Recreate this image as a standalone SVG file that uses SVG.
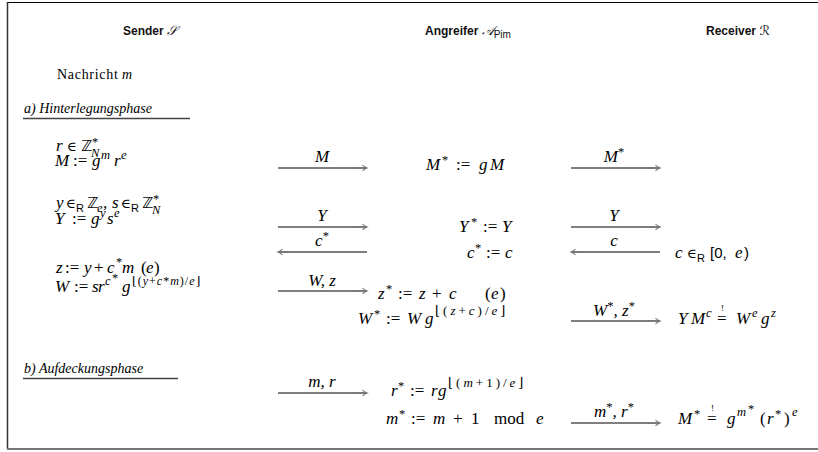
<svg xmlns="http://www.w3.org/2000/svg" width="818" height="452" viewBox="0 0 818 452">
<defs>
<style>
.h{font-family:"Liberation Sans",Arial,sans-serif;font-size:12px;font-weight:bold;fill:#111}
.cal{font-family:"DejaVu Serif","DejaVu Sans",serif;font-style:italic;font-weight:normal;font-size:13px}
.m{font-family:"Liberation Serif","DejaVu Serif",serif;font-size:17px;font-style:italic;fill:#000}
.rm{font-style:normal}
.el{font-family:"DejaVu Serif",serif;font-style:normal;font-size:13.5px}
.zz{font-family:"DejaVu Sans",sans-serif;font-style:normal;font-size:15px}
.sf{font-family:"Liberation Sans","DejaVu Sans",sans-serif;font-style:normal;font-size:15px}
.sr{font-family:"Liberation Sans","DejaVu Sans",sans-serif;font-style:normal;font-size:11px}
.s{font-size:12.5px}
.ss{font-size:12px;letter-spacing:1px}
.sw{font-size:13px;letter-spacing:3px}
.ex{font-style:normal;font-size:9px}
.ph{font-family:"Liberation Serif","DejaVu Serif",serif;font-size:14px;font-style:italic;fill:#000}
.ul{stroke:#444;stroke-width:1.4;fill:none}
.arr{stroke:#000;stroke-width:1.1;fill:none;marker-end:url(#ah)}
.arl{stroke:#000;stroke-width:1.1;fill:none;marker-start:url(#ah)}
</style>
<marker id="ah" markerUnits="userSpaceOnUse" viewBox="-15 -4 16 8" refX="0" refY="0" markerWidth="16" markerHeight="8" orient="auto-start-reverse" overflow="visible">
<path d="M-14,0 H0 M-4.5,-2.8 Q-2,-0.6 0,0 Q-2,0.6 -4.5,2.8" stroke="#777" stroke-width="1.1" fill="none"/>
</marker>
</defs>
<rect width="818" height="452" fill="#fff"/>
<g id="frame">
<line x1="7" y1="2.5" x2="818" y2="2.5" stroke="#000" stroke-width="1"/>
<line x1="7.5" y1="2" x2="7.5" y2="449" stroke="#333" stroke-width="1.5"/>
<line x1="7" y1="449" x2="818" y2="449" stroke="#777" stroke-width="2"/>
</g>
<g id="headers">
<text class="h" x="123" y="35">Sender <tspan class="cal">𝒮</tspan></text>
<text class="h" x="425" y="35">Angreifer <tspan class="cal">𝒜</tspan><tspan font-weight="normal" font-size="10" dy="3">Pim</tspan></text>
<text class="h" x="706" y="35">Receiver <tspan class="cal">ℛ</tspan></text>
</g>
<g id="sender">
<text class="m" x="57" y="79" style="font-size:14px"><tspan class="rm" style="letter-spacing:0.7px">Nachricht</tspan> m</text>
<g id="phase-a">
<text class="ph" x="24" y="113">a) Hinterlegungsphase</text>
<line class="ul" x1="23" y1="118.5" x2="190" y2="118.5"/>
</g>
<text class="m"><tspan x="56" y="151">r</tspan><tspan class="el" x="67" y="151">∈</tspan><tspan class="zz" x="81" y="151">ℤ</tspan><tspan class="rm s" x="92" y="146">*</tspan><tspan class="s" x="91" y="157">N</tspan></text>
<text class="m"><tspan x="55" y="166">M</tspan><tspan class="rm" x="73" y="166">:=</tspan><tspan x="92" y="166">g</tspan><tspan class="s" x="101" y="159">m</tspan><tspan x="114" y="166">r</tspan><tspan class="s" x="121" y="159">e</tspan></text>
<text class="m"><tspan x="56" y="208">y</tspan><tspan class="el" x="66" y="208">∈</tspan><tspan class="sr" x="76" y="212">R</tspan><tspan class="zz" x="87" y="208">ℤ</tspan><tspan class="s" x="97" y="212">e</tspan><tspan x="103" y="208">,</tspan><tspan x="112" y="208">s</tspan><tspan class="el" x="121" y="208">∈</tspan><tspan class="sr" x="131" y="212">R</tspan><tspan class="zz" x="142" y="208">ℤ</tspan><tspan class="rm s" x="153" y="203">*</tspan><tspan class="s" x="152" y="214">N</tspan></text>
<text class="m"><tspan x="55" y="224">Y</tspan><tspan class="rm" x="72" y="224">:=</tspan><tspan x="91" y="224">g</tspan><tspan class="s" x="100" y="217">y</tspan><tspan x="107" y="224">s</tspan><tspan class="s" x="114" y="217">e</tspan></text>
<text class="m"><tspan x="56" y="273">z</tspan><tspan class="rm" x="65" y="273">:=</tspan><tspan x="84" y="273">y</tspan><tspan class="rm" x="94" y="273">+</tspan><tspan x="107" y="273">c</tspan><tspan class="rm s" x="116" y="266">*</tspan><tspan x="122" y="273">m</tspan><tspan class="rm" x="141" y="273">(</tspan><tspan x="146" y="273">e</tspan><tspan class="rm" x="154" y="273">)</tspan></text>
<text class="m"><tspan x="55" y="292">W</tspan><tspan class="rm" x="74" y="292">:=</tspan><tspan x="92" y="292">s</tspan><tspan x="98" y="292">r</tspan><tspan class="s" x="105" y="285">c</tspan><tspan class="rm s" x="112" y="282">*</tspan><tspan x="122" y="292">g</tspan><tspan class="ss" x="132" y="285"><tspan class="rm">⌊(</tspan>y<tspan class="rm">+</tspan>c<tspan class="rm">*</tspan>m<tspan class="rm">)/</tspan>e<tspan class="rm">⌋</tspan></tspan></text>
<g id="phase-b">
<text class="ph" x="24" y="373">b) Aufdeckungsphase</text>
<line class="ul" x1="23" y1="378.5" x2="178" y2="378.5"/>
</g>
</g>
<g id="attacker">
<text class="m"><tspan x="426" y="170">M</tspan><tspan class="rm s" x="442" y="164">*</tspan><tspan class="rm" x="456" y="170">:=</tspan><tspan x="479" y="170">g</tspan><tspan x="490" y="170">M</tspan></text>
<text class="m"><tspan x="459" y="232">Y</tspan><tspan class="rm s" x="471" y="226">*</tspan><tspan class="rm" x="483" y="232">:=</tspan><tspan x="502" y="232">Y</tspan></text>
<text class="m"><tspan x="467" y="258">c</tspan><tspan class="rm s" x="475" y="252">*</tspan><tspan class="rm" x="486" y="258">:=</tspan><tspan x="505" y="258">c</tspan></text>
<text class="m"><tspan x="378" y="299">z</tspan><tspan class="rm s" x="386" y="293">*</tspan><tspan class="rm" x="398" y="299">:=</tspan><tspan x="419" y="299">z</tspan><tspan class="rm" x="432" y="299">+</tspan><tspan x="449" y="299">c</tspan><tspan class="rm" x="485" y="299">(</tspan><tspan x="491" y="299">e</tspan><tspan class="rm" x="500" y="299">)</tspan></text>
<text class="m"><tspan x="358" y="324">W</tspan><tspan class="rm s" x="374" y="318">*</tspan><tspan class="rm" x="386" y="324">:=</tspan><tspan x="407" y="324">W</tspan><tspan x="425" y="324">g</tspan><tspan class="sw" x="435" y="315"><tspan class="rm">⌊(</tspan>z<tspan class="rm">+</tspan>c<tspan class="rm">)/</tspan>e<tspan class="rm">⌋</tspan></tspan></text>
<text class="m"><tspan x="391" y="396">r</tspan><tspan class="rm s" x="398" y="390">*</tspan><tspan class="rm" x="410" y="396">:=</tspan><tspan x="431" y="396">r</tspan><tspan x="438" y="396">g</tspan><tspan class="sw" x="448" y="387"><tspan class="rm">⌊(</tspan>m<tspan class="rm">+1)/</tspan>e<tspan class="rm">⌋</tspan></tspan></text>
<text class="m"><tspan x="386" y="424">m</tspan><tspan class="rm s" x="399" y="418">*</tspan><tspan class="rm" x="411" y="424">:=</tspan><tspan x="433" y="424">m</tspan><tspan class="rm" x="453" y="424">+</tspan><tspan class="rm" x="471" y="424">1</tspan><tspan class="rm" x="494" y="424">mod</tspan><tspan x="536" y="424">e</tspan></text>
</g>
<g id="receiver">
<text class="m"><tspan x="675" y="258">c</tspan><tspan class="el" x="687" y="258">∈</tspan><tspan class="sr" x="697" y="262">R</tspan><tspan class="sf" x="710" y="258">[0,</tspan><tspan x="735" y="258">e</tspan><tspan class="sf" x="744" y="258">)</tspan></text>
<text class="m"><tspan x="678" y="324">Y</tspan><tspan x="691" y="324">M</tspan><tspan class="s" x="706" y="317">c</tspan><tspan class="rm" x="717" y="324">=</tspan><tspan class="ex" x="721" y="311">!</tspan><tspan x="736" y="324">W</tspan><tspan class="s" x="752" y="317">e</tspan><tspan x="761" y="324">g</tspan><tspan class="s" x="771" y="317">z</tspan></text>
<text class="m"><tspan x="678" y="424">M</tspan><tspan class="rm s" x="694" y="418">*</tspan><tspan class="rm" x="707" y="424">=</tspan><tspan class="ex" x="711" y="411">!</tspan><tspan x="727" y="424">g</tspan><tspan class="s" x="737" y="416">m</tspan><tspan class="rm s" x="748" y="413">*</tspan><tspan class="rm" x="760" y="424">(</tspan><tspan x="767" y="424">r</tspan><tspan class="rm s" x="775" y="418">*</tspan><tspan class="rm" x="784" y="424">)</tspan><tspan class="s" x="792" y="416">e</tspan></text>
</g>
<g id="connectors">
<line class="arr" x1="278" y1="168" x2="367" y2="168"/>
<text class="m" x="322" y="162" text-anchor="middle">M</text>
<line class="arr" x1="571" y1="168" x2="660" y2="168"/>
<text class="m" x="614" y="162" text-anchor="middle">M<tspan class="rm s" dy="-6">*</tspan></text>
<line class="arr" x1="278" y1="227" x2="367" y2="227"/>
<text class="m" x="322" y="221" text-anchor="middle">Y</text>
<line class="arr" x1="571" y1="227" x2="660" y2="227"/>
<text class="m" x="614" y="221" text-anchor="middle">Y</text>
<line class="arl" x1="278" y1="252" x2="367" y2="252"/>
<text class="m" x="322" y="246" text-anchor="middle">c<tspan class="rm s" dy="-6">*</tspan></text>
<line class="arl" x1="571" y1="252" x2="660" y2="252"/>
<text class="m" x="614" y="246" text-anchor="middle">c</text>
<line class="arr" x1="278" y1="291" x2="367" y2="291"/>
<text class="m" x="322" y="286" text-anchor="middle">W, z</text>
<line class="arr" x1="571" y1="321" x2="660" y2="321"/>
<text class="m" x="614" y="316" text-anchor="middle">W<tspan class="rm s" dy="-6">*</tspan><tspan dy="6">, z</tspan><tspan class="rm s" dy="-6">*</tspan></text>
<line class="arr" x1="278" y1="393" x2="367" y2="393"/>
<text class="m" x="322" y="387" text-anchor="middle">m, r</text>
<line class="arr" x1="571" y1="423" x2="660" y2="423"/>
<text class="m" x="614" y="417" text-anchor="middle">m<tspan class="rm s" dy="-6">*</tspan><tspan dy="6">, r</tspan><tspan class="rm s" dy="-6">*</tspan></text>
</g>
</svg>
